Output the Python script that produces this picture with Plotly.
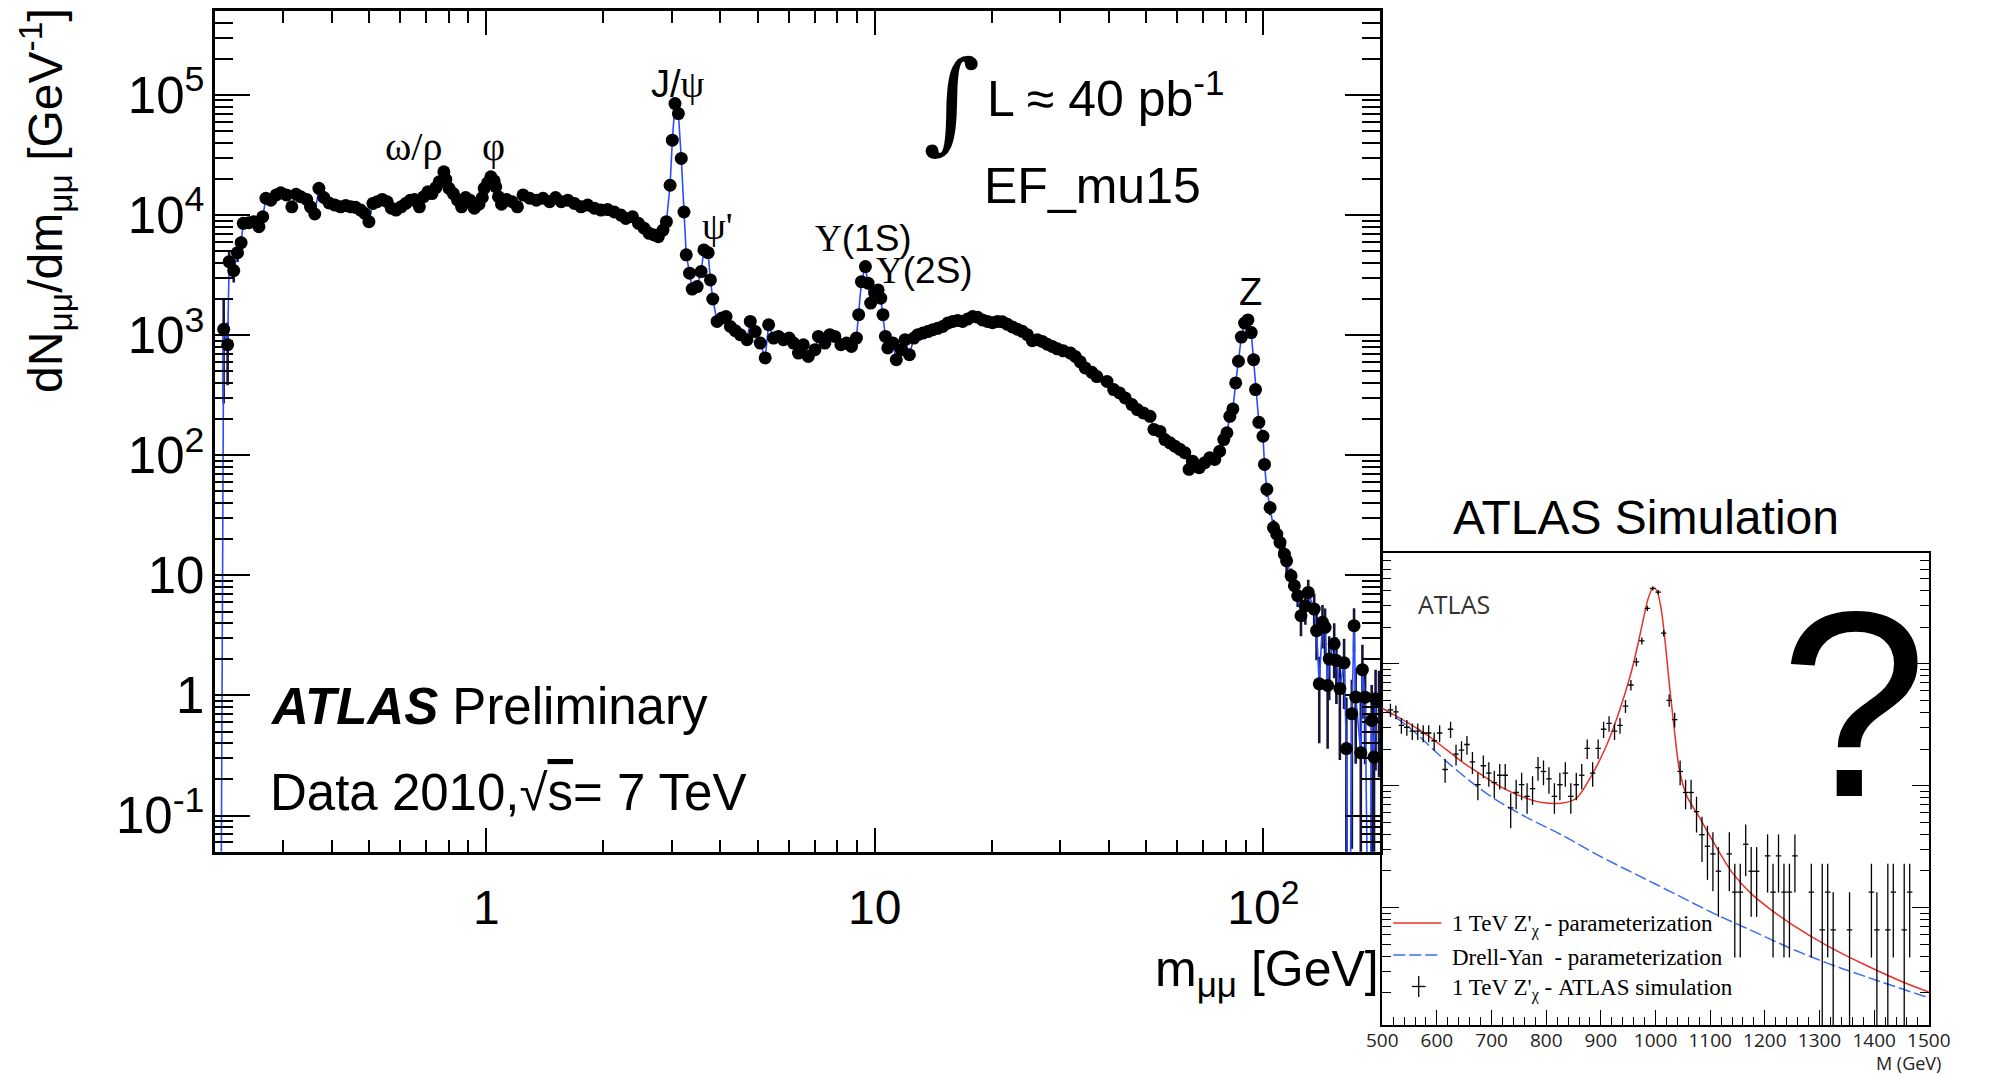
import math
import plotly.graph_objects as go

W, H = 1993, 1074


def px(x):
    return x / W


def py(y):
    return 1 - y / H


# ---------------- dimuon mass spectrum (ATLAS 2010, EF_mu15) ----------------
mass_gev = [
    # low mass, omega/rho, phi
    0.207, 0.211, 0.216, 0.218, 0.224, 0.229, 0.234, 0.237, 0.245, 0.252,
    0.260, 0.266, 0.271, 0.279, 0.288, 0.296, 0.306, 0.316, 0.324, 0.333,
    0.345, 0.353, 0.362, 0.371, 0.382, 0.394, 0.408, 0.422, 0.435, 0.448,
    0.461, 0.475, 0.487, 0.499, 0.511, 0.524, 0.540, 0.556, 0.570, 0.586,
    0.604, 0.621, 0.638, 0.654, 0.673, 0.690, 0.708, 0.725, 0.742, 0.757,
    0.778, 0.787, 0.802, 0.823, 0.844, 0.864, 0.885, 0.908, 0.932, 0.958,
    0.977, 0.988, 1.008, 1.028, 1.048, 1.058, 1.075, 1.095, 1.127, 1.166,
    1.203, 1.244,
    # J/psi, psi'
    1.294, 1.346, 1.400, 1.456, 1.508, 1.560, 1.622, 1.686, 1.754, 1.824,
    1.898, 1.974, 2.053, 2.136, 2.222, 2.287, 2.380, 2.465, 2.550, 2.626,
    2.704, 2.773, 2.851, 2.909, 2.973, 3.013, 3.061, 3.123, 3.177, 3.228,
    3.272, 3.337, 3.389, 3.491, 3.574, 3.632, 3.724, 3.776, 3.829, 3.928,
    4.046, 4.142, 4.249, 4.375, 4.507, 4.690, 4.782, 4.925, 5.072, 5.224,
    5.331, 5.490, 5.652, 5.821, 6.018, 6.178, 6.363, 6.548, 6.745, 7.015,
    # Upsilon family and Drell-Yan hump
    7.16, 7.44, 7.66, 7.89, 8.18, 8.46, 8.71, 8.97, 9.09, 9.24,
    9.46, 9.61, 9.76, 10.0, 10.2, 10.36, 10.5, 10.65, 10.8, 11.14,
    11.36, 11.7, 11.97, 12.28, 12.61, 12.91, 13.3, 13.69, 14.1, 14.52,
    14.96, 15.41, 15.87, 16.34, 16.83, 17.34, 17.86, 18.39, 18.93, 19.5,
    20.09, 20.69, 21.3, 21.95, 22.6, 23.28, 23.97, 24.7, 25.44, 26.2,
    26.98, 27.79, 28.62, 29.5, 30.55, 31.9, 32.8, 33.8, 34.8, 36.2,
    37.3,
    # Z region
    39.6, 41.2, 42.66, 44.1, 45.9, 47.4, 49.1, 51.1, 52.3, 54.2,
    55.8, 57.5, 59.2, 61.0, 62.8, 64.4, 65.7, 68.4, 70.7, 72.8,
    75.0, 77.2, 79.1, 80.6, 82.0, 83.5, 84.9, 86.3, 87.8, 89.5,
    91.3, 93.1, 94.4, 95.5, 97.4, 99.8, 100.7, 102.1, 104.1, 106.2,
    108.3, 110.4, 113.3, 114.8,
    # high-mass tail
    117.9, 120.2, 122.6, 125.0, 128.3, 130.5, 135.2, 137.1, 139.3, 142.0,
    144.2, 146.4, 147.8, 152.2, 154.2, 157.4, 161.4, 163.6, 166.0, 169.0,
    171.2, 172.9, 178.2, 179.9, 182.8, 185.5, 187.5, 190.1, 192.7, 194.5,
    198.5,
]

dn_dm = [
    0.001, 1120, 832, 4090, 3450, 4860, 5890, 8530, 8630, 8800,
    8000, 9680, 13800, 13300, 14700, 15300, 14700, 11700, 14900, 14200,
    13500, 11700, 10200, 16700, 14000, 12600, 12100, 11700, 12000, 11700,
    11600, 11000, 10300, 8800, 12500, 12900, 13500, 12900, 11400, 11000,
    11700, 12500, 13300, 13500, 11700, 14200, 15600, 15100, 16900, 18900,
    22900, 19800, 16700, 15100, 13300, 11700, 14000, 13300, 11400, 12300,
    14000, 16700, 18500, 20800, 19300, 17200, 14200, 12300, 13500, 12900,
    11700, 14700,
    13800, 13300, 13800, 12900, 14000, 12900, 13300, 12500, 11700, 12100,
    11400, 11000, 11100, 10600, 10000, 9380, 9680, 8530, 7760, 7050,
    6820, 6610, 7500, 8800, 17700, 42000, 84700, 70000, 29600, 10600,
    4660, 3280, 2420, 2540, 3380, 5120, 4860, 2880, 2000, 1300,
    1390, 1430, 1180, 1090, 1010, 916, 1300, 1070, 859, 646,
    1220, 946, 976, 916, 946, 859, 709, 832, 665, 757,
    976, 859, 1010, 976, 832, 859, 806, 946, 1480, 2790,
    3720, 2710, 1850, 2240, 2380, 2030, 1480, 976, 782, 859,
    625, 757, 916, 687, 946, 1010, 1040, 1070, 1110, 1140,
    1180, 1260, 1300, 1325, 1300, 1360, 1430, 1410, 1340, 1300,
    1270, 1300, 1290, 1230, 1170, 1120, 1075, 1010, 900, 916,
    887, 840, 806, 770, 740, 709, 665, 600, 533, 490,
    452,
    412, 352, 330, 300, 264, 240, 225, 211, 164, 158,
    135, 127, 119, 112, 105, 76.3, 89.3, 78.7, 86.7, 95.3,
    92.3, 108, 135, 154, 211, 243, 400, 606, 964, 1260,
    1340, 1050, 625, 352, 188, 144, 83.9, 52.0, 36.6, 25.0,
    22.0, 18.8, 15.0, 13.2,
    9.91, 8.19, 6.76, 4.61, 5.58, 7.21, 5.24, 3.46, 1.25, 4.06,
    3.69, 1.21, 2.01, 2.69, 1.95, 1.14, 1.87, 0.361, 0.001, 0.703,
    3.81, 0.97, 0.333, 1.64, 0.968, 0.001, 0.001, 0.619, 0.307, 0.937,
    0.908,
]

dn_dm_err = [
    0, 850, 450, 900, 700, 800, 800, 900, 800, 800,
    700, 700, 800, 700, 700, 700, 600, 600, 600, 600,
    500, 500, 500, 600, 500, 500, 450, 450, 450, 450,
    450, 400, 400, 400, 400, 400, 400, 400, 400, 400,
    400, 400, 400, 400, 350, 400, 400, 400, 400, 450,
    500, 450, 400, 400, 350, 350, 350, 350, 300, 300,
    350, 350, 400, 400, 400, 350, 300, 300, 300, 300,
    300, 300,
    300, 300, 300, 300, 300, 300, 300, 300, 300, 300,
    300, 300, 300, 300, 300, 250, 250, 250, 250, 250,
    250, 250, 250, 300, 400, 600, 900, 800, 500, 300,
    200, 150, 150, 150, 150, 200, 200, 150, 120, 100,
    100, 100, 90, 90, 80, 80, 100, 90, 80, 70,
    100, 80, 80, 80, 80, 70, 60, 70, 60, 60,
    70, 60, 70, 70, 60, 60, 60, 70, 90, 120,
    150, 120, 100, 110, 110, 100, 90, 70, 60, 60,
    50, 60, 60, 50, 60, 60, 60, 60, 60, 60,
    60, 60, 60, 60, 60, 60, 60, 60, 60, 60,
    60, 60, 60, 55, 55, 55, 50, 50, 45, 45,
    45, 40, 40, 40, 40, 40, 35, 35, 30, 30,
    30,
    25, 22, 20, 20, 18, 17, 16, 15, 13, 13,
    12, 11, 11, 10, 10, 8, 9, 8, 8, 9,
    9, 10, 11, 12, 14, 15, 20, 25, 30, 35,
    35, 30, 25, 18, 13, 12, 9, 7, 5, 4,
    4, 3.5, 3, 3,
    1.5, 1.4, 1.3, 1.5, 1.7, 2.0, 1.8, 1.5, 0.85, 1.6,
    1.6, 0.85, 1.1, 1.3, 1.1, 0.85, 1.1, 0.6, 0, 0.65,
    1.5, 0.7, 0.6, 1.0, 0.7, 0, 0, 0.6, 0.55, 0.7,
    0.7,
]

y_tick_vals = [0.1, 1, 10, 100, 1e3, 1e4, 1e5]
y_tick_text = ["10<sup>-1</sup>", "1", "10", "10<sup>2</sup>", "10<sup>3</sup>",
               "10<sup>4</sup>", "10<sup>5</sup>"]
x_tick_vals = [1, 10, 100]
x_tick_text = ["1", "10", "10<sup>2</sup>"]

# ---------------- inset: 1 TeV Z'_chi simulation ----------------
zp_mass = [500, 548.8, 583.6, 618.5, 653.3, 688.2, 723.0, 757.8, 792.7, 827.5,
           855.4, 883.3, 911.1, 932.1, 953.0, 966.9, 977.4, 986.4, 994.8, 1001.7,
           1010.1, 1017.1, 1024.0, 1033.1, 1043.6, 1057.5, 1078.4, 1106.3, 1141.1,
           1176.0, 1210.8, 1245.6, 1315.3, 1385.0, 1454.7, 1500.0]
zp_curve = [43.4, 32.5, 25.8, 19.6, 14.9, 11.8, 9.47, 8.07, 7.29, 7.19,
            7.90, 12.2, 21.8, 39.0, 77.6, 139, 230, 343, 417, 405,
            286, 160, 77.6, 32.5, 13.6, 8.19, 5.70, 3.43, 1.92,
            1.29, 0.964, 0.748, 0.484, 0.337, 0.243, 0.203]

dy_mass = [500, 548.8, 618.5, 688.2, 757.8, 827.5, 897.2, 966.9, 1036.6, 1106.3,
           1176.0, 1245.6, 1315.3, 1385.0, 1500.0]
dy_curve = [43.4, 30.2, 15.7, 8.81, 5.70, 3.97, 2.66, 1.85, 1.29, 0.897,
            0.648, 0.467, 0.349, 0.271, 0.182]

sim_mass = [515, 525, 535, 545, 555, 565, 575, 585, 595, 605,
            615, 625, 635, 645, 655, 665, 675, 685, 695, 705,
            715, 725, 735, 745, 755, 765, 775, 785, 795, 805,
            815, 825, 835, 845, 855, 865, 875, 885, 895, 905,
            915, 925, 935, 945, 955, 965, 975, 985, 995, 1005,
            1015, 1025, 1035, 1045, 1055, 1065, 1075, 1085, 1095, 1105,
            1115, 1135, 1145, 1155, 1165, 1175, 1185, 1205, 1215, 1225,
            1235, 1245, 1255, 1285, 1305, 1315, 1325, 1355, 1395, 1405,
            1425, 1435, 1455, 1465]
sim_events = [41.9, 40.4, 31.3, 30.2, 28.1, 28.1, 27.1, 27.1, 23.4, 27.1,
              13.6, 29.1, 18.2, 19.6, 21.8, 15.7, 10.2, 14.6, 12.7, 10.6,
              12.2, 12.2, 6.59, 8.81, 10.2, 8.19, 9.47, 14.1, 13.1, 11.4,
              8.19, 10.2, 12.7, 8.19, 10.2, 12.2, 20.3, 12.7, 20.3, 29.1,
              32.5, 28.1, 31.3, 45.0, 67.1, 103.8, 154.5, 286, 417, 388,
              178.6, 50.2, 34.9, 13.1, 8.81, 8.81, 6.13, 3.97, 3.19, 2.76,
              1.99, 2.76, 1.34, 1.34, 3.31, 1.99, 1.99, 2.66, 1.34, 2.66,
              1.34, 1.34, 2.66, 1.34, 0.656, 1.34, 0.656, 0.656, 1.34, 0.656,
              0.656, 1.34, 0.656, 1.34]
sim_err = [5.3, 5.2, 4.6, 4.5, 4.3, 4.3, 4.3, 4.3, 4.0, 4.3,
           3.0, 4.4, 3.5, 3.6, 3.8, 3.2, 2.6, 3.1, 2.9, 2.7,
           2.9, 2.9, 2.1, 2.4, 2.6, 2.3, 2.5, 3.1, 3.0, 2.8,
           2.3, 2.6, 2.9, 2.3, 2.6, 2.9, 3.7, 2.9, 3.7, 4.4,
           4.7, 4.3, 4.6, 5.5, 6.7, 8.3, 10.2, 13.8, 16.7, 16.1,
           10.9, 5.8, 4.8, 3.0, 2.4, 2.4, 2.0, 1.6, 1.5, 1.4,
           1.15, 1.4, 0.95, 0.95, 1.5, 1.15, 1.15, 1.33, 0.95, 1.33,
           0.95, 0.95, 1.33, 0.95, 1.64, 0.95, 0.68, 0.68, 0.95, 0.68,
           1.64, 0.95, 1.64, 0.95]
sim_bin_half_width = 5

SANS = "Liberation Sans"
SERIF = "Liberation Serif"
MYRIAD = "Open Sans"
BLUE = "#2b4cff"
RED = "#e8302a"
DY_BLUE = "#3a6cf0"

fig = go.Figure()

# error bars of the measured spectrum
fig.add_trace(go.Scatter(
    x=mass_gev, y=dn_dm, mode="markers",
    marker=dict(size=2, opacity=0),
    error_y=dict(type="data", array=dn_dm_err, color="#15153c", thickness=2.6, width=0),
    xaxis="x", yaxis="y", hoverinfo="skip", showlegend=False,
))
# connecting line
fig.add_trace(go.Scatter(
    x=mass_gev, y=dn_dm, mode="lines",
    line=dict(color=BLUE, width=1.6),
    xaxis="x", yaxis="y", hoverinfo="skip", showlegend=False,
))
# data points
fig.add_trace(go.Scatter(
    x=mass_gev, y=dn_dm, mode="markers",
    marker=dict(size=13, color="black"),
    cliponaxis=True,
    xaxis="x", yaxis="y", showlegend=False,
))

# inset curves and simulated points
fig.add_trace(go.Scatter(
    x=dy_mass, y=dy_curve, mode="lines",
    line=dict(color=DY_BLUE, width=1.5, dash="12px,4px", shape="spline"),
    xaxis="x2", yaxis="y2", showlegend=False,
))
fig.add_trace(go.Scatter(
    x=zp_mass, y=zp_curve, mode="lines",
    line=dict(color=RED, width=1.5, shape="spline", smoothing=0.8),
    xaxis="x2", yaxis="y2", showlegend=False,
))
fig.add_trace(go.Scatter(
    x=sim_mass, y=sim_events, mode="markers",
    marker=dict(size=2, color="black", opacity=0),
    error_y=dict(type="data", array=sim_err, color="black", thickness=1.3, width=0),
    error_x=dict(type="constant", value=sim_bin_half_width, color="black", thickness=1.3, width=0),
    xaxis="x2", yaxis="y2", showlegend=False,
))


def note(text, x, y, size, xanchor="left", yanchor="middle", family=SANS,
         color="black", angle=0):
    return dict(text=text, x=px(x), y=py(y), xref="paper", yref="paper",
                xanchor=xanchor, yanchor=yanchor, showarrow=False,
                textangle=angle, font=dict(family=family, size=size, color=color))


def serif(s):
    return f'<span style="font-family:{SERIF}">{s}</span>'


annotations = [
    note("<b><i>ATLAS</i></b> Preliminary", 257, 706, 51),
    note('Data 2010,√<span style="text-decoration:overline">s</span>= 7 TeV', 257, 792, 51),
    note("∫", 954, 101, 110, xanchor="center", family="DejaVu Serif"),
    note("L ≈ 40 pb<sup>-1</sup>", 988, 95, 50),
    note("EF_mu15", 985, 186, 50),
    note(serif("ω/ρ"), 405, 146, 40, xanchor="center"),
    note(serif("φ"), 487, 146, 40, xanchor="center"),
    note("J/" + serif("ψ"), 675, 84, 38, xanchor="center"),
    note(serif("ψ'"), 715, 226, 38, xanchor="center"),
    note(serif("Υ") + "(1S)", 864, 238, 37, xanchor="center"),
    note(serif("Υ") + "(2S)", 926, 270, 37, xanchor="center"),
    note("Z", 1258, 292, 38, xanchor="center"),
    note("dN<sub>μμ</sub>/dm<sub>μμ</sub> [GeV<sup>-1</sup>]", 30, 6, 48,
         xanchor="center", yanchor="top", angle=-90),
    note("m<sub>μμ</sub> [GeV]", 1392, 972, 50, xanchor="right"),
    # inset
    note("ATLAS Simulation", 1662, 517, 48, xanchor="center"),
    note("ATLAS", 1427, 604, 25, family=MYRIAD, color="#333333"),
    note("?", 1873, 704, 265, xanchor="center"),
    note("1 TeV Z'<sub>χ</sub> - parameterization", 1462, 925, 23, family=SERIF),
    note("Drell-Yan  - parameterization", 1462, 957, 23, family=SERIF),
    note("1 TeV Z'<sub>χ</sub> - ATLAS simulation", 1462, 989, 23, family=SERIF),
    note("M (GeV)", 1964, 1063, 18, xanchor="right", family=MYRIAD, color="#222222"),
]

shapes = [
    dict(type="line", xref="paper", yref="paper", x0=px(1404), x1=px(1453),
         y0=py(923), y1=py(923), line=dict(color=RED, width=1.5)),
    dict(type="line", xref="paper", yref="paper", x0=px(1404), x1=px(1453),
         y0=py(955), y1=py(955), line=dict(color=DY_BLUE, width=1.5, dash="12px,4px")),
    dict(type="line", xref="paper", yref="paper", x0=px(1430), x1=px(1430),
         y0=py(976), y1=py(997), line=dict(color="black", width=1.3)),
    dict(type="line", xref="paper", yref="paper", x0=px(1423), x1=px(1437),
         y0=py(986.5), y1=py(986.5), line=dict(color="black", width=1.3)),
]

main_axis = dict(
    type="log", showline=True, linecolor="black", linewidth=3, mirror="ticks",
    ticks="inside", tickwidth=2, tickcolor="black", showgrid=False, zeroline=False,
    tickmode="array",
)

fig.update_layout(
    width=W, height=H, margin=dict(l=0, r=0, t=0, b=0),
    paper_bgcolor="white", plot_bgcolor="white", showlegend=False,
    xaxis=dict(
        **main_axis,
        domain=[px(202.5), px(1390.8)], anchor="y",
        range=[math.log10(0.2), math.log10(200)],
        ticklen=24, tickvals=x_tick_vals, ticktext=x_tick_text,
        tickfont=dict(family=SANS, size=48, color="black"),
        ticklabelstandoff=12,
        minor=dict(ticks="inside", ticklen=12, tickwidth=2, tickcolor="black", dtick="D1"),
    ),
    yaxis=dict(
        **main_axis,
        domain=[py(851.7), py(11)], anchor="x",
        range=[math.log10(0.05), math.log10(5e5)],
        ticklen=35, tickvals=y_tick_vals, ticktext=y_tick_text,
        tickfont=dict(family=SANS, size=51, color="black"),
        ticklabelstandoff=-3,
        minor=dict(ticks="inside", ticklen=18, tickwidth=2, tickcolor="black", dtick="D1"),
    ),
    xaxis2=dict(
        domain=[px(1392.8), px(1950)], anchor="y2", range=[500, 1500],
        tick0=500, dtick=100, ticks="inside", ticklen=15, tickwidth=1.2, tickcolor="black",
        showline=True, linecolor="black", linewidth=1.5, mirror=True,
        showgrid=False, zeroline=False,
        tickfont=dict(family=MYRIAD, size=19, color="#222222"),
        ticklabelstandoff=-3,
        minor=dict(ticks="inside", dtick=20, ticklen=8, tickwidth=1, tickcolor="black"),
    ),
    yaxis2=dict(
        type="log", domain=[py(1025), py(553)], anchor="x2", range=[-0.963, 2.91],
        dtick=1, ticks="inside", ticklen=17, tickwidth=1.2, tickcolor="black",
        showline=True, linecolor="black", linewidth=1.5, mirror="ticks",
        showgrid=False, zeroline=False, showticklabels=False,
        minor=dict(ticks="inside", dtick="D1", ticklen=9, tickwidth=1, tickcolor="black"),
    ),
    annotations=annotations,
    shapes=shapes,
)

fig.write_html("out.html")
